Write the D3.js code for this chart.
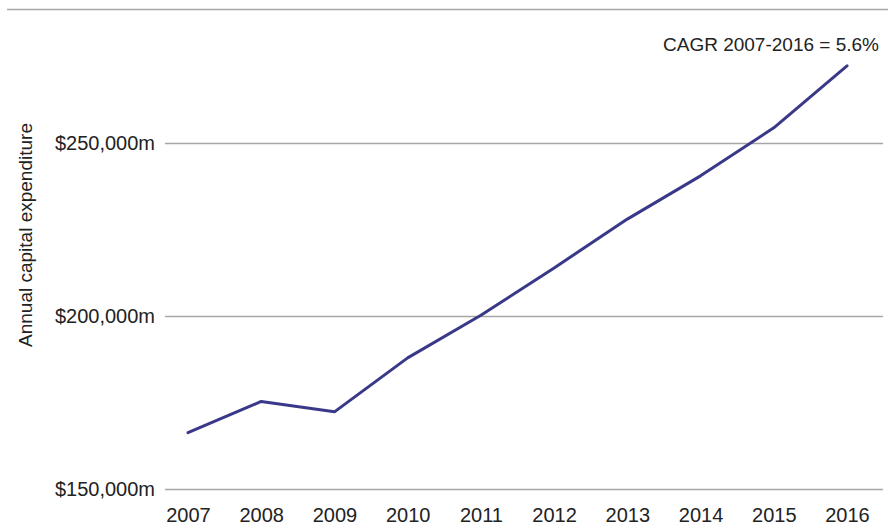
<!DOCTYPE html>
<html>
<head>
<meta charset="utf-8">
<script src="https://cdn.jsdelivr.net/npm/d3@7"></script>
<style>
  body { margin: 0; background: #fff; }
  text { font-family: "Liberation Sans", Arial, sans-serif; fill: #222; }
</style>
</head>
<body>
<div id="chart"></div>
<script>
// data
var years = ["2007", "2008", "2009", "2010", "2011", "2012", "2013", "2014", "2015", "2016"];
var capex = [166300, 175300, 172300, 187900, 200200, 213900, 228000, 240500, 254400, 272300];
var yTicks = [150000, 200000, 250000];
var note = "CAGR 2007-2016 = 5.6%";
var yTitle = "Annual capital expenditure";

var width = 888, height = 529;

var svg = d3.select("#chart").append("svg")
  .attr("width", width)
  .attr("height", height);

var x = d3.scalePoint().domain(years).range([188, 847]);
var y = d3.scaleLinear().domain([150000, 250000]).range([489, 143]);

// top frame line
svg.append("line")
  .attr("x1", 7).attr("x2", width)
  .attr("y1", 9.5).attr("y2", 9.5)
  .attr("stroke", "#a6a6a6").attr("stroke-width", 1.3);

// gridlines + labels
var fmt = d3.format(",");
var grid = svg.append("g").selectAll("g")
  .data(yTicks).enter().append("g");
grid.append("line")
  .attr("x1", 165).attr("x2", 883)
  .attr("y1", d => Math.round(y(d)) + 0.5)
  .attr("y2", d => Math.round(y(d)) + 0.5)
  .attr("stroke", "#a6a6a6").attr("stroke-width", 1.3);
grid.append("text")
  .attr("x", 155)
  .attr("y", d => y(d))
  .attr("dy", "0.35em")
  .attr("text-anchor", "end")
  .attr("font-size", 20)
  .text(d => "$" + fmt(d) + "m");

// x axis labels
var xAxis = d3.axisBottom(x).tickSize(0).tickPadding(0);
var xg = svg.append("g").attr("transform", "translate(0,508)").call(xAxis);
xg.select(".domain").remove();
xg.selectAll("text")
  .attr("font-size", 20)
  .attr("font-family", "Liberation Sans, Arial, sans-serif")
  .attr("fill", "#222");

// y title
svg.append("text")
  .attr("transform", "translate(32,235) rotate(-90)")
  .attr("text-anchor", "middle")
  .attr("font-size", 19)
  .text(yTitle);

// series line
var line = d3.line()
  .x((d, i) => x(years[i]))
  .y(d => y(d));
svg.append("path")
  .datum(capex)
  .attr("d", line)
  .attr("fill", "none")
  .attr("stroke", "#3a3888")
  .attr("stroke-width", 3)
  .attr("stroke-linejoin", "round")
  .attr("stroke-linecap", "round");

// CAGR annotation
svg.append("text")
  .attr("x", 879)
  .attr("y", 51)
  .attr("text-anchor", "end")
  .attr("font-size", 19)
  .text(note);
</script>
</body>
</html>
